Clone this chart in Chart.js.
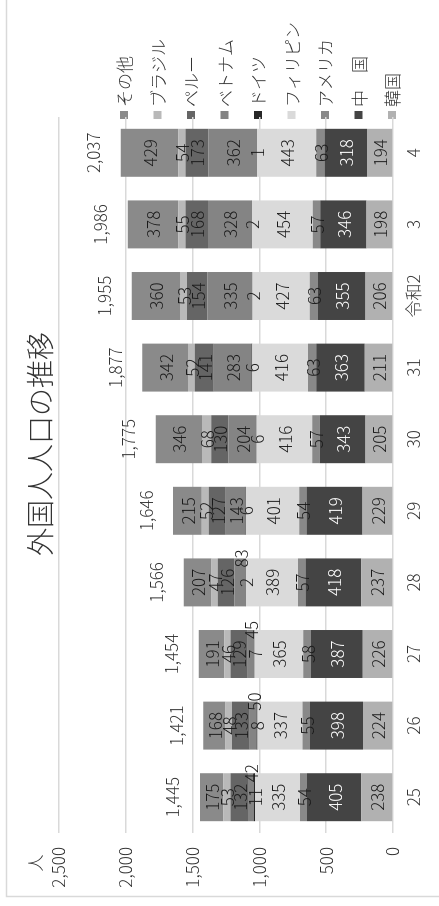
<!DOCTYPE html>
<html lang="ja">
<head>
<meta charset="utf-8">
<title>外国人人口の推移</title>
<script src="https://cdn.jsdelivr.net/npm/chart.js@4/dist/chart.umd.min.js"></script>
<style>
	html, body { margin: 0; padding: 0; background: #fff; overflow: hidden; }
	/* the chart is laid out landscape and turned a quarter turn to stand upright */
	#wrap {
		position: absolute; left: 0; top: 0;
		width: 906px; height: 439px;
		transform-origin: 0 0;
		transform: translateY(906px) rotate(-90deg);
	}
</style>
</head>
<body>
<div id="wrap"><canvas id="chart" width="906" height="439"></canvas></div>
<script>
( function () {
	'use strict';

	// ----------------------------------------------------------------
	// Data (人) — stacked bottom to top
	// ----------------------------------------------------------------
	var YEARS       = [ '25', '26', '27', '28', '29', '30', '31', '令和2', '3', '4' ];
	var KOREA       = [ 238, 224, 226, 237, 229, 205, 211, 206, 198, 194 ];
	var CHINA       = [ 405, 398, 387, 418, 419, 343, 363, 355, 346, 318 ];
	var USA         = [  54,  55,  58,  57,  54,  57,  63,  63,  57,  63 ];
	var PHILIPPINES = [ 335, 337, 365, 389, 401, 416, 416, 427, 454, 443 ];
	var GERMANY     = [  11,   8,   7,   2,   6,   6,   6,   2,   2,   1 ];
	var VIETNAM     = [  42,  50,  45,  83, 143, 204, 283, 335, 328, 362 ];
	var PERU        = [ 132, 133, 129, 126, 127, 130, 141, 154, 168, 173 ];
	var BRAZIL      = [  53,  48,  46,  47,  52,  68,  52,  53,  55,  54 ];
	var OTHERS      = [ 175, 168, 191, 207, 215, 346, 342, 360, 378, 429 ];

	var FONT   = '"Noto Sans CJK JP", "Noto Sans", sans-serif';
	var WEIGHT = '300';
	var TEXT   = '#333333';

	Chart.defaults.font.family = FONT;
	Chart.defaults.font.size   = 17;
	Chart.defaults.font.weight = WEIGHT;
	Chart.defaults.color       = TEXT;

	function series( label, data, color, opts ) {
		return Object.assign( {
			label           : label,
			data            : data,
			backgroundColor : color,
			borderWidth     : 0,
			barPercentage   : 0.67,
			categoryPercentage: 1,
			labelColor      : '#1a1a1a',
			smallShift      : 0,
		}, opts || {} );
	}

	var datasets = [
		series( '韓国',     KOREA,       '#b1b1b1' ),
		series( '中　国',   CHINA,       '#444444', { labelColor: '#ffffff' } ),
		series( 'アメリカ', USA,         '#898989' ),
		series( 'フィリピン', PHILIPPINES, '#dadada' ),
		series( 'ドイツ',   GERMANY,     '#272727' ),
		series( 'ベトナム', VIETNAM,     '#848484', { smallShift: 24 } ),
		series( 'ペルー',   PERU,        '#656565' ),
		series( 'ブラジル', BRAZIL,      '#b9b9b9' ),
		series( 'その他',   OTHERS,      '#8a8a8a' ),
	];

	function totals() {
		return YEARS.map( function ( y, i ) {
			return datasets.reduce( function ( s, ds ) { return s + ds.data[ i ]; }, 0 );
		} );
	}

	function fmt( v ) {
		return Number( v ).toLocaleString( 'en-US' );
	}

	function font( size ) {
		return WEIGHT + ' ' + size + 'px ' + FONT;
	}

	// ----------------------------------------------------------------
	// Frame, title, unit and legend (drawn before the bars)
	// ----------------------------------------------------------------
	var frame = {
		id: 'frame',
		beforeDraw: function ( chart ) {
			var ctx = chart.ctx;
			var area = chart.chartArea;
			ctx.save();

			ctx.strokeStyle = '#d9d9d9';
			ctx.lineWidth = 1.5;
			ctx.strokeRect( 9.5, 6.5, 1000, 1000 );

			ctx.fillStyle = TEXT;
			ctx.textAlign = 'center';
			ctx.textBaseline = 'middle';
			ctx.font = font( 28 );
			ctx.fillText( '外国人人口の推移', 462, 40 );

			ctx.font = font( 17 );
			ctx.fillText( '人', 43, 36 );

			// legend, top item is the top of the stack
			var items = chart.data.datasets.slice().reverse();
			var top = 124, step = 33.5;
			ctx.textAlign = 'left';
			items.forEach( function ( ds, i ) {
				var y = top + i * step;
				ctx.fillStyle = ds.backgroundColor;
				ctx.fillRect( area.right - 2, y - 4, 8, 8 );
				ctx.fillStyle = TEXT;
				ctx.fillText( ds.label, area.right + 10, y + 1 );
			} );

			ctx.restore();
		},

		// values inside each segment and the total above each column
		afterDatasetsDraw: function ( chart ) {
			var ctx = chart.ctx;
			var yScale = chart.scales.y;
			ctx.save();
			ctx.textAlign = 'center';
			ctx.textBaseline = 'middle';
			ctx.font = font( 17 );

			chart.data.datasets.forEach( function ( ds, di ) {
				var meta = chart.getDatasetMeta( di );
				meta.data.forEach( function ( bar, i ) {
					var v = ds.data[ i ];
					var x = bar.x + ( v < 100 ? ds.smallShift : 0 );
					var y = ( bar.y + bar.base ) / 2;
					ctx.fillStyle = ds.labelColor;
					ctx.fillText( String( v ), x, y + 1 );
				} );
			} );

			var sums = totals();
			var meta0 = chart.getDatasetMeta( 0 );
			ctx.fillStyle = TEXT;
			sums.forEach( function ( s, i ) {
				ctx.fillText( fmt( s ), meta0.data[ i ].x, yScale.getPixelForValue( s ) - 27 );
			} );
			ctx.restore();
		},
	};

	new Chart( document.getElementById( 'chart' ), {
		type: 'bar',
		data: { labels: YEARS, datasets: datasets },
		options: {
			responsive : false,
			animation  : false,
			layout     : { padding: { top: 59, right: 117, bottom: 0, left: 0 } },
			plugins    : {
				legend  : { display: false },
				tooltip : { enabled: false },
			},
			scales: {
				x: {
					stacked : true,
					grid    : { display: false, drawTicks: false },
					border  : { display: false },
					ticks   : { padding: 10, maxRotation: 0, autoSkip: false, color: TEXT },
					afterFit: function ( s ) { s.height = 46; },
				},
				y: {
					stacked : true,
					min     : 0,
					max     : 2500,
					grid    : { color: '#d9d9d9', lineWidth: 1.5, drawTicks: false },
					border  : { display: false },
					ticks   : {
						stepSize : 500,
						padding  : 14,
						color    : TEXT,
						callback : function ( v ) { return fmt( v ); },
					},
					afterFit: function ( s ) { s.width = 73; },
				},
			},
		},
		plugins: [ frame ],
	} );
}() );
</script>
</body>
</html>
